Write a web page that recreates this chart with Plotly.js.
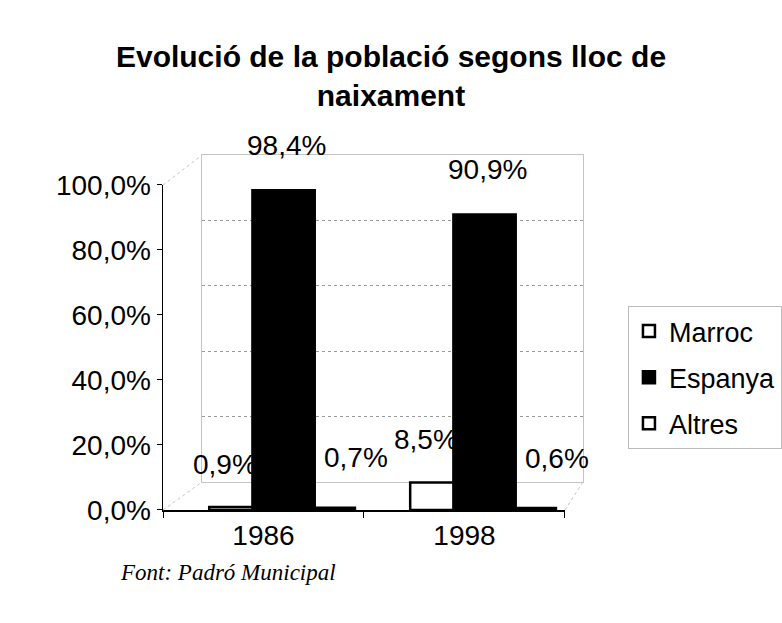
<!DOCTYPE html>
<html>
<head>
<meta charset="utf-8">
<script src="https://cdn.plot.ly/plotly-3.0.1.min.js"></script>
<style>html,body{margin:0;padding:0;background:#fff;}#chart{width:782px;height:623px;}</style>
</head>
<body>
<div id="chart"></div>
<script>
const years = ['1986', '1998'];
const seriesNames = ['Marroc', 'Espanya', 'Altres'];
const marroc = [0.9, 8.5];
const espanya = [98.4, 90.9];
const altres = [0.7, 0.6];
const yTicks = [0, 20, 40, 60, 80, 100];
const yTickLabels = ['0,0%', '20,0%', '40,0%', '60,0%', '80,0%', '100,0%'];
const sourceText = 'Font: Padró Municipal';
const titleText = 'Evolució de la població segons lloc de<br>naixament';

const values = [marroc, espanya, altres];
const fills = ['#ffffff', '#000000', '#ffffff'];
const offsets = [-0.27, -0.055, 0.255];
const widths = [0.22, 0.31, 0.2];
const ranks = [1, 2, 3];
const labelXShift = [-38, 23, 93];
const labelYShift = [43, 45, 50];
const FONT = '"Liberation Sans", Arial, sans-serif';

function fmt(v) { return v.toFixed(1).replace('.', ',') + '%'; }

const traces = [];
traces.push({type: 'scatter', x: [], y: [], xaxis: 'x', yaxis: 'y', showlegend: false, hoverinfo: 'skip'});
[2, 0, 1].forEach(i => {
  traces.push({
    type: 'bar',
    name: seriesNames[i],
    x: years,
    y: values[i],
    xaxis: 'x2', yaxis: 'y2',
    offset: offsets[i],
    width: widths[i],
    marker: {color: fills[i], line: {color: '#000', width: 2.5}},
    legendrank: ranks[i],
    legendgroup: seriesNames[i],
    hoverinfo: 'skip'
  });
});

const annotations = [];
values.forEach((vals, i) => {
  vals.forEach((v, j) => {
    annotations.push({
      xref: 'x2', yref: 'y2', x: j, y: v,
      text: fmt(v), showarrow: false,
      xshift: labelXShift[i], yshift: labelYShift[i],
      font: {family: FONT, size: 28, color: '#000'}
    });
  });
});
annotations.push({
  xref: 'paper', yref: 'paper', x: -0.107, y: -0.177,
  xanchor: 'left', yanchor: 'middle', showarrow: false,
  text: sourceText,
  font: {family: '"Liberation Serif", "Times New Roman", serif', size: 23, color: '#000', style: 'italic'}
});

const wallColor = '#c4c4c4';
const shapes = [
  {type: 'line', xref: 'paper', yref: 'paper', x0: 0, y0: 0, x1: 0.093, y1: 0.0789, line: {color: wallColor, width: 1, dash: 'dot'}},
  {type: 'line', xref: 'paper', yref: 'paper', x0: 0, y0: 0.9155, x1: 0.093, y1: 1, line: {color: wallColor, width: 1, dash: 'dot'}},
  {type: 'line', xref: 'paper', yref: 'paper', x0: 0.957, y0: 0, x1: 1, y1: 0.0789, line: {color: wallColor, width: 1, dash: 'dot'}}
];

const layout = {
  width: 782, height: 623,
  margin: {l: 163, r: 199, t: 155, b: 113},
  paper_bgcolor: '#fff', plot_bgcolor: 'rgba(0,0,0,0)',
  separators: ',.',
  font: {family: FONT, size: 28, color: '#000'},
  title: {
    text: titleText,
    x: 0.5, xref: 'container', xanchor: 'center',
    y: 0.893, yref: 'container', yanchor: 'top',
    font: {family: FONT, size: 30, color: '#000', weight: 'bold'}
  },
  showlegend: true,
  legend: {
    xref: 'container', yref: 'container',
    x: 0.803, y: 1 - 306 / 623, xanchor: 'left', yanchor: 'top',
    bordercolor: '#bbbbbb', borderwidth: 1, bgcolor: '#fff',
    font: {family: FONT, size: 27, color: '#000'},
    traceorder: 'grouped', tracegroupgap: 8,
    itemwidth: 30
  },
  barmode: 'group',
  xaxis: {
    domain: [0.093, 1], range: [0, 1], anchor: 'y',
    showticklabels: false, showgrid: false, zeroline: false,
    showline: true, mirror: true, linecolor: wallColor, linewidth: 1, ticks: ''
  },
  yaxis: {
    domain: [0.0789, 1], range: [0, 100], anchor: 'x', dtick: 20,
    showticklabels: false, showgrid: true, gridcolor: '#9a9a9a', griddash: 'dot', gridwidth: 1,
    zeroline: false, showline: true, mirror: true, linecolor: wallColor, linewidth: 1, ticks: ''
  },
  xaxis2: {
    domain: [0, 0.957], anchor: 'y2', type: 'category',
    categoryorder: 'array', categoryarray: years,
    range: [-0.5, 1.5],
    showline: true, linecolor: '#000', linewidth: 1.5,
    ticks: 'outside', tickson: 'boundaries', ticklen: 6, tickcolor: '#000',
    showgrid: false, zeroline: false,
    tickfont: {family: FONT, size: 28, color: '#000'}
  },
  yaxis2: {
    domain: [0, 0.9155], anchor: 'x2', range: [0, 100],
    tickmode: 'array', tickvals: yTicks, ticktext: yTickLabels,
    showline: true, linecolor: '#000', linewidth: 1.5,
    ticks: 'outside', ticklen: 5, tickcolor: '#000',
    showgrid: false, zeroline: false,
    tickfont: {family: FONT, size: 28, color: '#000'}
  },
  annotations: annotations,
  shapes: shapes
};

Plotly.newPlot('chart', traces, layout, {displayModeBar: false, staticPlot: true});
</script>
</body>
</html>
